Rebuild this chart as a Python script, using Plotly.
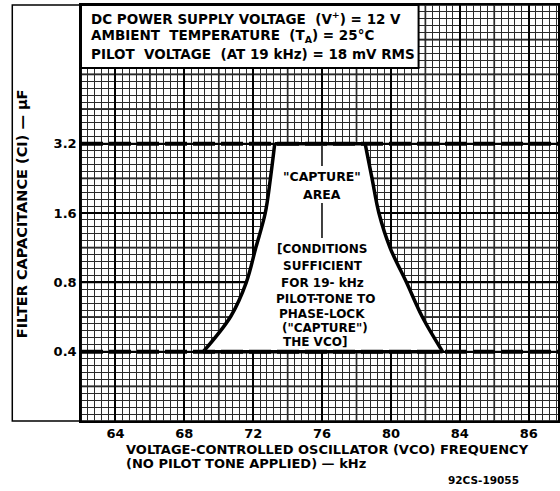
import numpy as np
import plotly.graph_objects as go

# ---- data ----
cap_levels = [0.4, 0.57, 0.8, 1.13, 1.6, 2.26, 3.2]          # filter capacitance, uF
left_edge_khz = [69.1, 70.7, 71.6, 72.15, 72.7, 73.0, 73.25]  # lower boundary of capture area
right_edge_khz = [83.0, 81.8, 80.9, 79.95, 79.3, 78.9, 78.5]  # upper boundary of capture area
cap_min, cap_max = 0.4, 3.2

x_tick_vals = [64, 68, 72, 76, 80, 84, 88]
x_tick_text = ["64", "68", "72", "76", "80", "84", "86"]
y_tick_vals = [0.4, 0.8, 1.6, 3.2]
y_tick_text = ["0.4", "0.8", "1.6", "3.2"]

header_lines = [
    "DC POWER SUPPLY VOLTAGE  (V<sup>+</sup>) = 12 V",
    "AMBIENT  TEMPERATURE  (T<sub>A</sub>) = 25°C",
    "PILOT  VOLTAGE  (AT 19 kHz) = 18 mV RMS",
]
capture_lines = ['"CAPTURE"', "AREA"]
condition_lines = ["[CONDITIONS", "SUFFICIENT", "FOR 19- kHz", "PILOT-TONE TO",
                   "PHASE-LOCK", '("CAPTURE")', "THE VCO]"]

X_RANGE = [62, 89.7]
Y_RANGE = [0.2, 12.8]

W, H = 560, 491
ML, MR, MT, MB = 81, 0, 5, 70
PW, PH = W - ML - MR, H - MT - MB

def px(x):
    return (x - ML) / PW

def py(y):
    return (H - MB - y) / PH

FONT = "DejaVu Sans"
fig = go.Figure()

# capture area white fill
fig.add_trace(go.Scatter(
    x=left_edge_khz + right_edge_khz[::-1],
    y=cap_levels + cap_levels[::-1],
    fill="toself", fillcolor="white", mode="lines",
    line=dict(width=0, color="white"), hoverinfo="skip", showlegend=False))

# dashed limit lines
for c in (cap_min, cap_max):
    i = cap_levels.index(c)
    fig.add_trace(go.Scatter(
        x=X_RANGE, y=[c, c], mode="lines",
        line=dict(color="black", width=4, dash="22px,6px"),
        hoverinfo="skip", showlegend=False))
    fig.add_trace(go.Scatter(
        x=[left_edge_khz[i], right_edge_khz[i]],
        y=[c, c], mode="lines", line=dict(color="black", width=3.5),
        hoverinfo="skip", showlegend=False))

# boundary curves
for xs in (left_edge_khz, right_edge_khz):
    fig.add_trace(go.Scatter(
        x=xs, y=cap_levels, mode="lines",
        line=dict(color="black", width=3.5, shape="spline"),
        hoverinfo="skip", showlegend=False))

# fine grid (graph paper)
x_minor = list(np.round(np.arange(62, 90.01, 0.4), 2))
y_minor = [0.2 * 2 ** (k / 10) for k in range(61)]

fig.update_xaxes(
    range=X_RANGE, tickmode="array", tickvals=x_tick_vals, ticktext=x_tick_text,
    showgrid=True, gridcolor="black", gridwidth=1.6,
    minor=dict(tickvals=x_minor, showgrid=True, gridcolor="#2a2a2a", gridwidth=0.9),
    showline=True, mirror=True, linecolor="black", linewidth=1.5,
    zeroline=False, ticks="", tickfont=dict(family=FONT, size=13, color="black", weight="bold"),
)
fig.update_yaxes(
    type="log", range=[np.log10(Y_RANGE[0]), np.log10(Y_RANGE[1])],
    tickmode="array", tickvals=y_tick_vals, ticktext=y_tick_text,
    showgrid=True, gridcolor="black", gridwidth=1.6,
    minor=dict(tickvals=y_minor, showgrid=True, gridcolor="#2a2a2a", gridwidth=0.9),
    showline=True, mirror=True, linecolor="black", linewidth=1.5,
    zeroline=False, ticks="", tickfont=dict(family=FONT, size=13, color="black", weight="bold"),
)

shapes = []
# heavier graph-paper lines between the labelled ones
for xv in np.arange(62, 90.01, 2):
    if xv not in x_tick_vals:
        shapes.append(dict(type="line", xref="x", yref="paper", x0=xv, x1=xv, y0=0, y1=1,
                           line=dict(color="black", width=1.6), layer="between"))
for k in range(13):  # half-octave lines, equally spaced in paper units
    shapes.append(dict(type="line", xref="paper", yref="paper", x0=0, x1=1,
                       y0=k / 12, y1=k / 12,
                       line=dict(color="black", width=1.6), layer="between"))
# header box
shapes.append(dict(type="rect", xref="paper", yref="paper",
                   x0=0, x1=px(420), y0=py(68), y1=1,
                   fillcolor="white", line=dict(color="black", width=2), layer="above"))
# left frame
shapes.append(dict(type="rect", xref="paper", yref="paper",
                   x0=px(12), x1=0, y0=0, y1=1,
                   fillcolor="rgba(0,0,0,0)", line=dict(color="black", width=1.5), layer="above"))
# vertical leader lines inside capture area
shapes.append(dict(type="line", xref="paper", yref="paper",
                   x0=px(323), x1=px(323), y0=py(146), y1=py(166),
                   line=dict(color="black", width=1.5), layer="above"))
shapes.append(dict(type="line", xref="paper", yref="paper",
                   x0=px(323), x1=px(323), y0=py(203), y1=py(238),
                   line=dict(color="black", width=1.5), layer="above"))

ann = []
for i, t in enumerate(header_lines):
    ann.append(dict(text=t, xref="paper", yref="paper", x=px(89), y=py(18 + 18 * i),
                    xanchor="left", yanchor="middle", showarrow=False,
                    font=dict(family=FONT, size=13.5, color="black", weight="bold")))
for t, yy in zip(capture_lines, [176, 194]):
    ann.append(dict(text=t, xref="paper", yref="paper", x=px(323), y=py(yy),
                    xanchor="center", yanchor="middle", showarrow=False,
                    font=dict(family=FONT, size=12.5, color="black", weight="bold")))
cond_x = [324, 324, 324, 327, 323, 326, 316]
for t, yy, xx in zip(condition_lines, [249, 266, 283, 299, 314, 328, 342], cond_x):
    ann.append(dict(text=t, xref="paper", yref="paper", x=px(xx), y=py(yy),
                    xanchor="center", yanchor="middle", showarrow=False,
                    font=dict(family=FONT, size=12, color="black", weight="bold")))
# axis titles
ann.append(dict(text="FILTER CAPACITANCE (CI) — µF", xref="paper", yref="paper",
                x=px(22), y=py(214), textangle=-90, showarrow=False,
                xanchor="center", yanchor="middle",
                font=dict(family=FONT, size=14.5, color="black", weight="bold")))
ann.append(dict(text="VOLTAGE-CONTROLLED OSCILLATOR (VCO) FREQUENCY",
                xref="paper", yref="paper", x=px(124), y=py(449), xanchor="left",
                yanchor="middle", showarrow=False,
                font=dict(family=FONT, size=13, color="black", weight="bold")))
ann.append(dict(text="(NO PILOT TONE APPLIED) — kHz",
                xref="paper", yref="paper", x=px(124), y=py(463), xanchor="left",
                yanchor="middle", showarrow=False,
                font=dict(family=FONT, size=13, color="black", weight="bold")))
ann.append(dict(text="92CS-19055", xref="paper", yref="paper", x=px(448), y=py(480),
                xanchor="left", yanchor="middle", showarrow=False,
                font=dict(family=FONT, size=10.5, color="black", weight="bold")))

fig.update_layout(
    width=W, height=H, margin=dict(l=ML, r=MR, t=MT, b=MB),
    paper_bgcolor="white", plot_bgcolor="white",
    shapes=shapes, annotations=ann, showlegend=False,
)

fig.write_html("out.html", config={"displayModeBar": False},
               post_script="document.body.style.margin='0';document.body.style.overflow='hidden';")
